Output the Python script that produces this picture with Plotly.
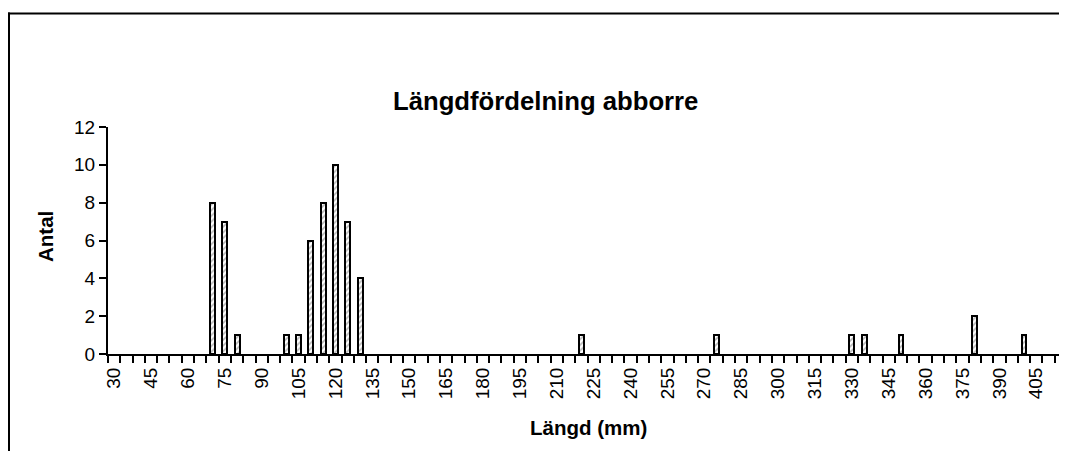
import plotly.graph_objects as go

# Data: length class (mm) and count (only non-zero classes shown as bars)
lengths = [70, 75, 80, 100, 105, 110, 115, 120, 125, 130, 220, 275, 330, 335, 350, 380, 400]
counts = [8, 7, 1, 1, 1, 6, 8, 10, 7, 4, 1, 1, 1, 1, 1, 2, 1]
tick_labels = list(range(30, 406, 15))
y_ticks = [0, 2, 4, 6, 8, 10, 12]

title_text = "Längdfördelning abborre"
x_title = "Längd (mm)"
y_title = "Antal"

FONT = "Arial, 'Liberation Sans', sans-serif"

fig = go.Figure()
fig.add_trace(go.Bar(
    x=lengths, y=counts, width=2.0,
    marker=dict(
        color="white",
        line=dict(color="black", width=2),
        pattern=dict(shape="/", fgcolor="#6e6e6e", bgcolor="white", size=4, solidity=0.4),
    ),
))

# page has an 8px body margin, so the figure is offset by (8, 8)
OFF = 8
W, H = 1067 - OFF, 459 - 2 * OFF
L, T = 108 - OFF, 127 - OFF
B = H - (354 - OFF)
R = 0
pw, ph = W - L - R, H - T - B
scale = 959 / 390.0
x_lo = 27.5
x_hi = x_lo + pw / scale

def px(x):
    return (x - OFF - L) / pw

def py(y):
    return (H - B - (y - OFF)) / ph

fig.update_layout(
    width=W, height=H,
    margin=dict(l=L, r=R, t=T, b=B, pad=0),
    paper_bgcolor="white", plot_bgcolor="white",
    font=dict(family=FONT, size=19, color="black"),
    showlegend=False,
    bargap=0,
    xaxis=dict(
        range=[x_lo, x_hi],
        tickmode="array", tickvals=tick_labels, ticktext=[str(v) for v in tick_labels],
        ticks="", tickangle=-90, tickfont=dict(size=19),
        ticklabelstandoff=4,
        minor=dict(ticks="outside", tick0=27.5, dtick=5, ticklen=7, tickwidth=2, tickcolor="black", showgrid=False),
        showline=True, linecolor="black", linewidth=2,
        showgrid=False, zeroline=False,
    ),
    yaxis=dict(
        range=[0, 12], tickmode="array", tickvals=y_ticks,
        ticks="outside", ticklen=7, tickwidth=2, tickcolor="black",
        tickfont=dict(size=19),
        showline=True, linecolor="black", linewidth=2,
        showgrid=False, zeroline=False,
    ),
    annotations=[
        dict(text=f"<b>{title_text}</b>", xref="paper", yref="paper",
             x=px(545), y=py(101), xanchor="center", yanchor="middle",
             showarrow=False, font=dict(size=25.7, family=FONT)),
        dict(text=f"<b>{x_title}</b>", xref="paper", yref="paper",
             x=px(588), y=py(428), xanchor="center", yanchor="middle",
             showarrow=False, font=dict(size=20.5, family=FONT)),
        dict(text=f"<b>{y_title}</b>", xref="paper", yref="paper",
             x=px(45), y=py(237), xanchor="center", yanchor="middle",
             textangle=-90, showarrow=False, font=dict(size=20.5, family=FONT)),
    ],
    shapes=[
        dict(type="line", xref="paper", yref="paper",
             x0=px(9), x1=px(9), y0=py(12.5), y1=py(520),
             line=dict(color="black", width=2), layer="above"),
        dict(type="line", xref="paper", yref="paper",
             x0=px(8), x1=px(1100), y0=py(13.5), y1=py(13.5),
             line=dict(color="black", width=2), layer="above"),
    ],
)

fig.write_html("out.html")
